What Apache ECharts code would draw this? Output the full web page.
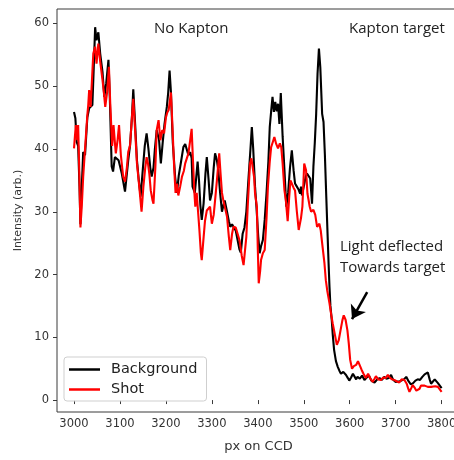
<!DOCTYPE html>
<html>
<head>
<meta charset="utf-8">
<script src="https://cdn.jsdelivr.net/npm/echarts@6/dist/echarts.min.js"></script>
<style>
  html, body { margin: 0; padding: 0; background: #fff; }
  #chart { width: 454px; height: 460px; }
</style>
</head>
<body>
<div id="chart"></div>
<script>
// Pixel position on the CCD and measured intensity, background frame
const bgPx = [3000,3003,3006,3009,3012,3014,3017,3020,3024,3029,3033,3036,3040,3043,3046,3049,3053,3057,3062,3066,3070,3075,3078,3082,3085,3089,3093,3097,3104,3111,3118,3122,3126,3129,3133,3137,3141,3145,3150,3154,3158,3162,3166,3169,3173,3176,3180,3185,3189,3193,3197,3202,3205,3208,3211,3215,3220,3224,3228,3233,3238,3242,3245,3249,3253,3256,3258,3263,3266,3269,3272,3275,3278,3282,3286,3289,3293,3296,3300,3304,3307,3311,3314,3318,3322,3325,3328,3333,3337,3340,3344,3347,3352,3356,3360,3363,3367,3371,3375,3380,3384,3387,3390,3394,3397,3401,3404,3407,3411,3415,3419,3423,3426,3429,3432,3435,3438,3441,3444,3447,3450,3454,3458,3462,3466,3470,3474,3478,3481,3485,3489,3492,3494,3496,3500,3504,3507,3511,3514,3518,3521,3524,3527,3530,3533,3536,3540,3543,3546,3549,3552,3554,3556,3558,3561,3563,3566,3570,3574,3578,3581,3586,3592,3596,3599,3603,3607,3610,3614,3617,3622,3627,3632,3637,3642,3647,3654,3660,3665,3670,3675,3680,3685,3690,3694,3700,3704,3709,3713,3718,3723,3728,3733,3738,3743,3748,3753,3758,3763,3767,3770,3774,3777,3781,3785,3788,3792,3796,3800];
const bgVal = [45.9,44.9,41.1,40.5,34,28,34,39.5,39,45,46.5,46.4,47,53,59.4,57.3,58.6,55.2,52.3,48.3,50.4,54.2,48,37.2,36.4,38.7,38.9,38.2,36.1,33.2,38.2,40.6,45,49.5,44,38.2,35,32.4,37,40.5,42.5,40,37,35.6,37,40,43,41.5,37.7,41,44,46.7,49,52.5,49,41,35.6,33,35.8,38,40.3,40.8,41.1,39,39.5,38.5,34,33,35.5,38,35,31,28.7,31.3,36,38.7,35,31.8,33,37,39.3,38.2,36.6,33,30,31,31.8,30,28.5,27.6,28,27.6,27,25.5,24,23.5,26.5,27.5,30,35.6,40,43.5,40,34,30.8,26,23.4,24.5,25.5,28.7,33,38,43.5,46,48.3,45.9,47.5,46,47.2,44,48.9,42,36.6,30.8,33,37,39.8,36.5,34.5,34,33.5,32.9,34,32.6,34,35.5,36.1,35.8,35.3,31.3,37.2,41,45.6,52,56,53,45.6,44.3,39,32.4,26,21.8,18,15,12.7,10.5,8,6.2,5.3,4.6,4.2,4.5,4,3.5,3.1,3.6,4.2,4,3.3,3.7,3.4,3.9,3.2,3.6,3.9,3.1,2.8,3.3,3.5,3.2,3.7,3.4,3.5,4,3.3,2.9,2.6,3.0,2.8,3.3,3.7,3.0,2.5,2.7,3.1,3.3,3.2,3.7,4.1,3.8,4.4,3.3,2.6,2.9,3.3,3.2,2.7,2.6,1.9];

// Same pixels, frame taken during the shot
const shotPx = [3000,3002,3004,3007,3009,3011,3014,3017,3020,3024,3029,3031,3033,3036,3038,3042,3046,3049,3053,3057,3062,3065,3068,3072,3076,3079,3083,3086,3089,3091,3095,3098,3102,3107,3111,3115,3118,3122,3126,3129,3133,3137,3142,3147,3151,3155,3158,3161,3164,3167,3171,3173,3177,3180,3184,3188,3192,3196,3200,3203,3206,3211,3214,3218,3221,3224,3227,3231,3235,3239,3242,3246,3249,3253,3256,3259,3262,3264,3267,3270,3273,3276,3278,3281,3285,3289,3293,3296,3300,3304,3307,3311,3316,3319,3322,3325,3329,3333,3337,3340,3344,3347,3352,3356,3360,3365,3369,3371,3375,3378,3383,3386,3389,3392,3394,3398,3400,3402,3405,3407,3411,3415,3419,3422,3426,3429,3433,3436,3440,3444,3448,3451,3454,3458,3461,3465,3468,3471,3474,3478,3481,3485,3489,3494,3497,3501,3505,3508,3513,3516,3521,3525,3529,3534,3537,3540,3545,3548,3551,3556,3560,3563,3568,3572,3576,3580,3584,3587,3591,3595,3598,3601,3605,3609,3614,3618,3621,3626,3630,3635,3640,3645,3650,3654,3657,3662,3668,3673,3678,3683,3687,3692,3697,3702,3708,3713,3719,3724,3727,3730,3734,3737,3742,3745,3748,3752,3755,3759,3763,3766,3770,3774,3777,3781,3786,3792,3796,3800];
const shotVal = [40.1,42,43.8,41.4,43.8,38,27.5,31,35.6,40,45.4,47,49.4,46.7,49.4,55.2,56.3,53.6,56.8,53.9,51,49,46.7,49,53.1,47,40.5,43.8,41,39.3,41.5,43.8,39,35.6,34.8,37,39.5,40.6,45,48,43,37.7,34,30,34,37,38.7,37.7,36,33.4,31.8,31.3,37,43,44.6,41.4,43,42.5,45,45.8,46.2,49,44,37,33,34.5,32.6,34,35.6,36.5,37.7,38,39.3,41.5,43.2,38,33,30.8,33,30,27,23.5,22.3,25,28.5,30.2,30.5,30.8,28.1,29.5,31.8,35,39.3,36,33,31.8,30.5,29.2,26,23.9,26.5,27.6,27.5,27.3,25.5,23,21.5,21.2,26,30.8,37.7,38.5,38.7,35.5,32.9,30.8,24,18.6,20.5,22.3,23.4,23.9,29,34,38,40.3,41.2,41.9,40.8,40.1,40.9,40.3,37.7,33.4,31.8,28.5,32,35,34.5,33.8,33.4,30,27.1,29,30.8,37.7,36.6,32.9,30.8,30,30.3,29.5,27.6,28.1,27,25,21.8,19.1,17.5,15.4,13.5,12.2,10.3,8.8,9.5,11.1,12.7,13.5,12.8,11.1,9,6.4,5,5.4,5.6,6.2,6.1,4.8,4.2,3.5,4.2,3.4,2.9,3.4,3.8,3.3,3.2,3.6,3.5,4,3.6,3.3,3.2,3.0,2.8,3.3,3.2,2.6,1.9,1.3,1.9,2.4,1.9,1.5,1.2,1.8,2.3,2.6,2.3,2.0,2.1,2.3,2.1,2.4,2.2,2.1,1.8,1.3];

const xTicks = [3000,3100,3200,3300,3400,3500,3600,3700,3800];
const yTicks = [0,10,20,30,40,50,60];

// Arrow pointing at the shot-only bump (px, intensity)
const arrowFrom = [3638, 17.2];
const arrowTo = [3605, 12.9];

const zip = (xs, ys) => xs.map((x, i) => [x, ys[i]]);

const chart = echarts.init(document.getElementById('chart'), null, { renderer: 'canvas' });
const frame = '#3a3a3a';
const tickFont = 'DejaVu Sans';
const noteFont = '"Open Sans", "Noto Sans", sans-serif';

chart.setOption({
  animation: false,
  backgroundColor: '#fff',
  grid: {
    left: 57, top: 9, bottom: 48, right: -6,
    containLabel: false, outerBoundsMode: 'none',
    show: true, borderColor: frame, borderWidth: 1, backgroundColor: 'transparent'
  },
  xAxis: {
    type: 'value', min: 2963, max: 3840,
    name: 'px on CCD', nameLocation: 'middle', nameGap: 28,
    nameTextStyle: { fontFamily: tickFont, fontSize: 13, color: '#333' },
    axisLine: { show: false },
    splitLine: { show: false },
    axisTick: { show: true, customValues: xTicks, length: 4, inside: false, lineStyle: { color: frame } },
    axisLabel: {
      customValues: xTicks, fontFamily: tickFont, fontSize: 11.5, color: '#333', margin: 6,
      formatter: v => String(v)
    }
  },
  yAxis: {
    type: 'value', min: -1.9, max: 62.3,
    name: 'Intensity (arb.)', nameLocation: 'middle', nameGap: 33, nameRotate: 90,
    nameTextStyle: { fontFamily: tickFont, fontSize: 11, color: '#333' },
    axisLine: { show: false },
    splitLine: { show: false },
    axisTick: { show: true, customValues: yTicks, length: 4, inside: false, lineStyle: { color: frame } },
    axisLabel: {
      customValues: yTicks, fontFamily: tickFont, fontSize: 11.5, color: '#333', margin: 8,
      formatter: v => String(v)
    }
  },
  legend: {
    orient: 'vertical', left: 64, top: 357,
    data: ['Background', 'Shot'],
    icon: 'rect', itemWidth: 31, itemHeight: 2.5, itemGap: 5,
    padding: [5, 9, 4, 5],
    borderColor: '#cfcfcf', borderWidth: 1, borderRadius: 3,
    backgroundColor: 'rgba(255,255,255,0.85)',
    textStyle: { fontFamily: tickFont, fontSize: 14.5, color: '#222', padding: [0, 0, 0, 6] }
  },
  series: [
    {
      name: 'Background', type: 'line', data: zip(bgPx, bgVal),
      symbol: 'none', showSymbol: false,
      lineStyle: { color: '#000', width: 2.1 }, itemStyle: { color: '#000' },
      z: 2
    },
    {
      name: 'Shot', type: 'line', data: zip(shotPx, shotVal),
      symbol: 'none', showSymbol: false,
      lineStyle: { color: '#ff0000', width: 2.1 }, itemStyle: { color: '#ff0000' },
      z: 3,
      markLine: {
        silent: true, symbol: ['none', 'arrow'], symbolSize: 13,
        label: { show: false },
        lineStyle: { color: '#000', width: 2.5, type: 'solid' },
        itemStyle: { color: '#000' },
        data: [[{ coord: arrowFrom }, { coord: arrowTo }]]
      }
    }
  ],
  graphic: [
    { type: 'text', left: 154, top: 21, style: { text: 'No Kapton', font: '15px ' + noteFont, fill: '#222' } },
    { type: 'text', left: 349, top: 21, style: { text: 'Kapton target', font: '15px ' + noteFont, fill: '#222' } },
    { type: 'text', left: 340, top: 239, style: { text: 'Light deflected', font: '15px ' + noteFont, fill: '#222' } },
    { type: 'text', left: 340, top: 260, style: { text: 'Towards target', font: '15px ' + noteFont, fill: '#222' } }
  ]
});
</script>
</body>
</html>
